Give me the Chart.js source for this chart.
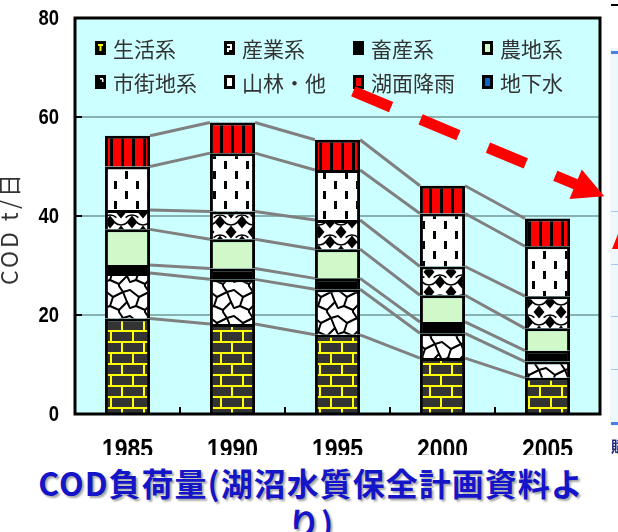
<!DOCTYPE html>
<html>
<head>
<meta charset="utf-8">
<script src="https://cdn.jsdelivr.net/npm/chart.js@4.4.1/dist/chart.umd.min.js"></script>
<style>
  html, body { margin: 0; padding: 0; background: #fff; width: 618px; height: 532px; overflow: hidden; }
  #wrap { position: relative; width: 618px; height: 532px; }
  #c { position: absolute; left: 0; top: 0; }
  #caption {
    position: absolute; left: 0; top: 455px; width: 622px; height: 77px;
    background: #fff; padding-top: 7px; box-sizing: border-box; text-align: center;
    font-family: 'Noto Sans CJK JP', sans-serif; font-weight: 700; font-size: 32px; line-height: 40px;
    letter-spacing: 1px;
    color: #1414c8; text-shadow: 2px 2px 2px rgba(0, 0, 0, 0.35); white-space: nowrap;
  }
</style>
</head>
<body>
<div id="wrap">
  <canvas id="c" width="618" height="532"></canvas>
  <div id="caption">COD負荷量(湖沼水質保全計画資料よ<br>り)</div>
</div>
<script>
// COD load by source (t/day)
const years      = ['1985', '1990', '1995', '2000', '2005'];
const seikatsu   = [19.3, 18.2, 16.0, 11.3, 7.3];   // 生活系
const sangyo     = [9.2, 9.0, 9.2, 5.0, 3.3];       // 産業系
const chikusan   = [1.6, 2.2, 2.2, 2.3, 2.2];       // 畜産系
const nochi      = [7.2, 5.9, 5.9, 5.4, 4.5];       // 農地系
const shigaichi  = [3.9, 5.6, 5.9, 5.8, 6.5];       // 市街地系
const sanrin     = [8.8, 11.8, 10.1, 10.7, 10.1];   // 山林・他
const komenkou   = [6.2, 6.2, 6.1, 5.6, 5.6];       // 湖面降雨
const chikasui   = [0, 0, 0, 0, 0];                 // 地下水
const yTicks     = [0, 20, 40, 60, 80];

const cv = document.getElementById('c');
const mainCtx = cv.getContext('2d');

function makePattern(w, h, draw) {
  const t = document.createElement('canvas');
  t.width = w; t.height = h;
  const g = t.getContext('2d');
  draw(g, w, h);
  return mainCtx.createPattern(t, 'repeat');
}

// yellow-mortar brick wall
const brickFill = makePattern(22, 22, g => {
  g.fillStyle = '#ffff00'; g.fillRect(0, 0, 22, 22);
  g.fillStyle = '#333333';
  g.fillRect(2, 2, 20, 9);
  g.fillRect(0, 13, 11, 9);
  g.fillRect(13, 13, 9, 9);
});

// irregular paving lines
const pavingFill = makePattern(26, 26, g => {
  g.fillStyle = '#ffffff'; g.fillRect(0, 0, 26, 26);
  g.strokeStyle = '#000'; g.lineWidth = 2; g.lineCap = 'round';
  const segs = [
    [0, 4, 9, 11], [9, 11, 19, 6], [19, 6, 26, 4], [9, 11, 6, 20],
    [6, 20, 15, 24], [15, 24, 23, 16], [23, 16, 19, 6], [15, 24, 15, 26],
    [15, 0, 19, 6], [6, 20, 0, 22], [26, 22, 23, 16]
  ];
  segs.forEach(s => { g.beginPath(); g.moveTo(s[0], s[1]); g.lineTo(s[2], s[3]); g.stroke(); });
});

// lattice with black diamonds
const diamondFill = makePattern(22, 20, g => {
  g.fillStyle = '#ffffff'; g.fillRect(0, 0, 22, 20);
  g.strokeStyle = '#000'; g.lineWidth = 1.5;
  g.beginPath(); g.arc(11, -4, 9, 0.25 * Math.PI, 0.75 * Math.PI); g.stroke();
  g.beginPath(); g.arc(0, 24, 9, 1.25 * Math.PI, 1.75 * Math.PI); g.stroke();
  g.beginPath(); g.arc(22, 24, 9, 1.25 * Math.PI, 1.75 * Math.PI); g.stroke();
  g.fillStyle = '#000';
  const dia = (cx, cy) => {
    g.beginPath(); g.moveTo(cx, cy - 6.5); g.lineTo(cx + 5.5, cy); g.lineTo(cx, cy + 6.5); g.lineTo(cx - 5.5, cy); g.closePath(); g.fill();
  };
  dia(11, 12); dia(0, 2); dia(22, 2); dia(0, 22); dia(22, 22);
});

// staggered short vertical dashes
const dashFill = makePattern(22, 20, g => {
  g.fillStyle = '#ffffff'; g.fillRect(0, 0, 22, 20);
  g.fillStyle = '#000';
  g.fillRect(4, 1, 3, 8);
  g.fillRect(15, 11, 3, 8);
});

// red with black vertical stripes
const rainFill = makePattern(11, 4, g => {
  g.fillStyle = '#ff0000'; g.fillRect(0, 0, 11, 4);
  g.fillStyle = '#000'; g.fillRect(0, 0, 3, 4);
});

const datasets = [
  { label: '生活系',   data: seikatsu,  backgroundColor: brickFill },
  { label: '産業系',   data: sangyo,    backgroundColor: pavingFill },
  { label: '畜産系',   data: chikusan,  backgroundColor: '#000000' },
  { label: '農地系',   data: nochi,     backgroundColor: '#d0f8c8' },
  { label: '市街地系', data: shigaichi, backgroundColor: diamondFill },
  { label: '山林・他', data: sanrin,    backgroundColor: dashFill },
  { label: '湖面降雨', data: komenkou,  backgroundColor: rainFill },
  { label: '地下水',   data: chikasui,  backgroundColor: '#0a64c8', borderWidth: 0 }
].map(d => Object.assign({ borderColor: '#000', borderWidth: 3, borderSkipped: 'start',
  categoryPercentage: 1, barPercentage: 0.43 }, d));

// little legend keys
const keyInner = {
  '生活系': (c, x, y) => { c.fillStyle = '#000'; c.fillRect(x, y, 11, 14); c.fillStyle = '#ffff00'; c.fillRect(x + 3, y + 3, 5, 2); c.fillRect(x + 4.5, y + 5, 2, 5); },
  '産業系': (c, x, y) => { c.fillStyle = '#000'; c.fillRect(x, y, 11, 14); c.fillStyle = '#fff'; c.fillRect(x + 3, y + 3, 5, 2); c.fillRect(x + 6, y + 5, 2, 2); c.fillRect(x + 3, y + 7, 5, 2); c.fillRect(x + 3, y + 9, 2, 2); },
  '畜産系': (c, x, y) => { c.fillStyle = '#000'; c.fillRect(x, y, 11, 14); },
  '農地系': (c, x, y) => { c.fillStyle = '#000'; c.fillRect(x, y, 11, 14); c.fillStyle = '#d0f8c8'; c.fillRect(x + 3, y + 3, 5, 8); },
  '市街地系': (c, x, y) => { c.fillStyle = '#000'; c.fillRect(x, y, 11, 14); c.fillStyle = '#fff'; c.fillRect(x + 5, y + 3, 3, 1.5); c.fillRect(x + 7, y + 4, 1.5, 3); },
  '山林・他': (c, x, y) => { c.fillStyle = '#000'; c.fillRect(x, y, 11, 14); c.fillStyle = '#fff'; c.fillRect(x + 3, y + 3, 5, 8); },
  '湖面降雨': (c, x, y) => { c.fillStyle = '#000'; c.fillRect(x, y, 11, 14); c.fillStyle = '#ff0000'; c.fillRect(x + 3, y + 3, 5, 8); },
  '地下水': (c, x, y) => { c.fillStyle = '#000'; c.fillRect(x, y, 11, 14); c.fillStyle = '#0a64c8'; c.fillRect(x + 3, y + 3, 5, 8); }
};

const NARROW = 'bold {s}px "Liberation Sans", Arial, sans-serif';

const decor = {
  id: 'decor',
  beforeDraw(chart) {
    const { ctx, chartArea: a } = chart;
    ctx.save();
    ctx.fillStyle = '#ccffff';
    ctx.fillRect(a.left, a.top, a.right - a.left, a.bottom - a.top);
    ctx.restore();
  },
  beforeDatasetsDraw(chart) {
    // series lines joining each stack boundary between neighbouring bars
    const { ctx } = chart;
    ctx.save();
    ctx.strokeStyle = '#808080';
    ctx.lineWidth = 3;
    chart.data.datasets.forEach((ds, di) => {
      if (!ds.data.some(v => v > 0)) return;
      const pts = chart.getDatasetMeta(di).data;
      for (let i = 0; i < pts.length - 1; i++) {
        const p = pts[i], q = pts[i + 1];
        ctx.beginPath();
        ctx.moveTo(p.x + p.width / 2, p.y);
        ctx.lineTo(q.x - q.width / 2, q.y);
        ctx.stroke();
      }
    });
    ctx.restore();
  },
  afterDatasetsDraw(chart) {
    const { ctx, chartArea: a, scales: { x, y } } = chart;
    ctx.save();
    ctx.strokeStyle = '#000';
    // inward tick marks
    ctx.lineWidth = 2;
    yTicks.forEach(v => {
      const py = y.getPixelForValue(v);
      ctx.beginPath(); ctx.moveTo(a.left, py); ctx.lineTo(a.left + 7, py); ctx.stroke();
    });
    for (let i = 0; i < years.length - 1; i++) {
      const px = Math.round(x.getPixelForValue(i + 0.5));
      ctx.beginPath(); ctx.moveTo(px, a.bottom); ctx.lineTo(px, a.bottom - 7); ctx.stroke();
    }
    // frame
    ctx.lineWidth = 3;
    ctx.strokeRect(a.left, a.top, a.right - a.left, a.bottom - a.top);
    ctx.restore();
  },
  afterDraw(chart) {
    const { ctx, chartArea: a, scales: { x, y } } = chart;
    ctx.save();

    // condensed bold tick labels, placed from the scales
    ctx.fillStyle = '#000';
    ctx.font = NARROW.replace('{s}', 22);
    ctx.textAlign = 'right';
    ctx.textBaseline = 'middle';
    y.ticks.forEach(t => {
      const py = y.getPixelForValue(t.value);
      ctx.save(); ctx.translate(59, py + 1); ctx.scale(0.84, 1);
      ctx.fillText(String(t.value), 0, 0);
      ctx.restore();
    });
    ctx.font = NARROW.replace('{s}', 28);
    ctx.textAlign = 'center';
    ctx.textBaseline = 'alphabetic';
    chart.data.labels.forEach((lab, i) => {
      const px = x.getPixelForValue(i);
      ctx.save(); ctx.translate(px, 458); ctx.scale(0.82, 1);
      ctx.fillText(lab, 0, 0);
      ctx.restore();
    });

    // legend in four columns, two rows
    ctx.font = '21px "Noto Sans CJK JP"';
    ctx.textBaseline = 'middle';
    ctx.textAlign = 'left';
    chart.data.datasets.forEach((ds, i) => {
      const col = i % 4, row = Math.floor(i / 4);
      const kx = a.left + 20 + col * 129;
      const ky = a.top + 30 + row * 34;
      keyInner[ds.label](ctx, kx, ky - 7);
      ctx.fillStyle = '#333';
      ctx.fillText(ds.label, kx + 18, ky + 1);
    });

    // y axis caption
    ctx.save();
    ctx.translate(9, 228);
    ctx.rotate(-Math.PI / 2);
    ctx.font = '23px "Noto Sans CJK JP"';
    ctx.letterSpacing = '3px';
    ctx.fillStyle = '#333';
    ctx.textAlign = 'center';
    ctx.textBaseline = 'middle';
    ctx.fillText('COD t/日', 0, 0);
    ctx.restore();

    // red dashed trend arrow
    const sx = x.getPixelForValue(2.15), sy = y.getPixelForValue(65.2);
    const tx = x.getPixelForValue(4.54), ty = y.getPixelForValue(44.0);
    const len = Math.hypot(tx - sx, ty - sy);
    const ux = (tx - sx) / len, uy = (ty - sy) / len;
    const headLen = 31, headHalf = 16;
    const bx = tx - ux * headLen, by = ty - uy * headLen;
    ctx.strokeStyle = '#ff0000';
    ctx.fillStyle = '#ff0000';
    ctx.lineWidth = 11;
    ctx.setLineDash([41, 32]);
    ctx.beginPath(); ctx.moveTo(sx, sy); ctx.lineTo(bx + ux * 2, by + uy * 2); ctx.stroke();
    ctx.setLineDash([]);
    ctx.beginPath();
    ctx.moveTo(tx, ty);
    ctx.lineTo(bx - uy * headHalf, by + ux * headHalf);
    ctx.lineTo(bx + uy * headHalf, by - ux * headHalf);
    ctx.closePath(); ctx.fill();

    // edge of the neighbouring panel on the right
    ctx.fillStyle = '#eef8fc';
    ctx.fillRect(610, 48, 8, 378);
    ctx.fillStyle = '#4a7fe6';
    ctx.fillRect(611, 51, 7, 3);
    ctx.fillRect(611, 422, 7, 3);
    ctx.fillStyle = '#a9c6f2';
    [211, 264, 316, 369].forEach(v => ctx.fillRect(611, v, 7, 1));
    ctx.fillStyle = '#ff0000';
    ctx.beginPath(); ctx.moveTo(618, 234); ctx.lineTo(618, 249); ctx.lineTo(612, 249); ctx.closePath(); ctx.fill();
    ctx.fillStyle = '#000';
    ctx.fillRect(611, 4, 7, 2);
    ctx.fillStyle = '#1a237e';
    ctx.font = 'bold 15px "Noto Sans CJK JP"';
    ctx.textBaseline = 'middle';
    ctx.fillText('賦', 611, 446);

    ctx.restore();
  }
};

new Chart(cv, {
  type: 'bar',
  data: { labels: years, datasets },
  options: {
    responsive: false,
    devicePixelRatio: 1,
    animation: false,
    layout: { padding: { top: 18, right: 18, left: 0, bottom: 0 } },
    plugins: { legend: { display: false }, tooltip: { enabled: false }, title: { display: false } },
    scales: {
      x: {
        stacked: true,
        offset: true,
        grid: { display: false, drawTicks: false },
        border: { display: false },
        ticks: { display: false },
        afterFit(s) { s.height = 118; }
      },
      y: {
        stacked: true,
        min: 0, max: 80,
        afterBuildTicks(s) { s.ticks = yTicks.map(v => ({ value: v })); },
        grid: {
          drawTicks: false,
          lineWidth: 2,
          color: c => (c.tick && (c.tick.value === 0 || c.tick.value === 80)) ? 'rgba(0,0,0,0)' : 'rgba(90,125,125,0.6)'
        },
        border: { display: false },
        ticks: { display: false },
        afterFit(s) { s.width = 75; }
      }
    }
  },
  plugins: [decor]
});
</script>
</body>
</html>
